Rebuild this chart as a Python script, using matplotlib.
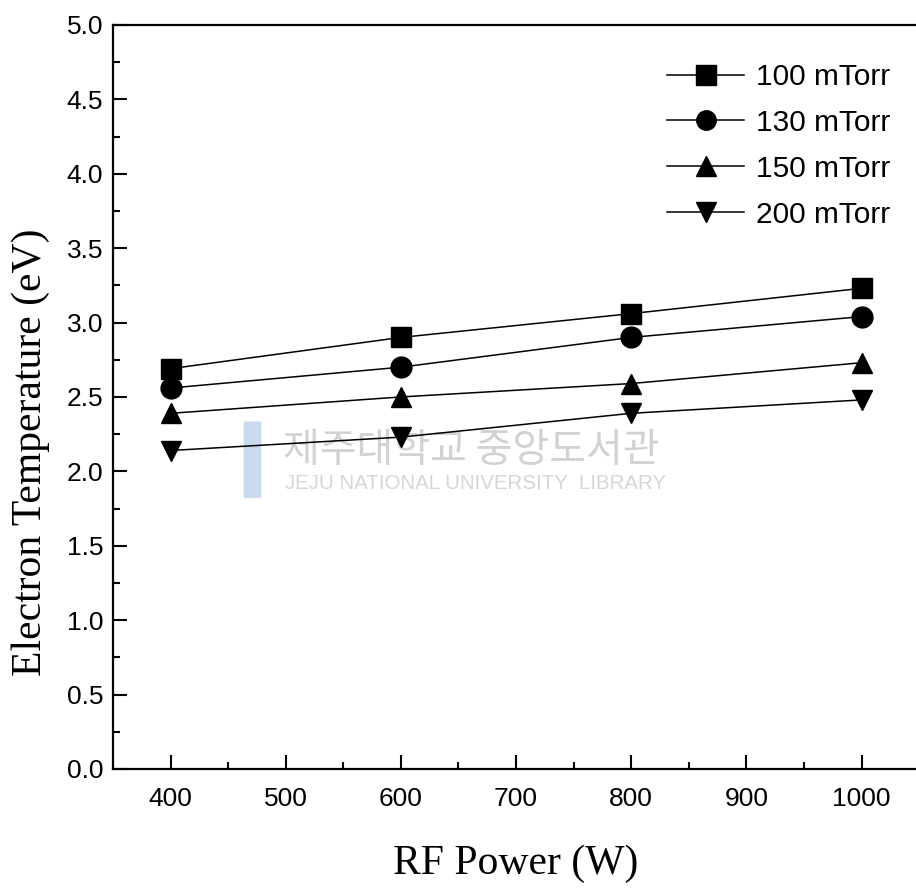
import matplotlib.pyplot as plt
from matplotlib.patches import FancyBboxPatch
from matplotlib.ticker import MultipleLocator

power = [400, 600, 800, 1000]
pressures = ['100 mTorr', '130 mTorr', '150 mTorr', '200 mTorr']
te_100 = [2.69, 2.90, 3.06, 3.23]
te_130 = [2.56, 2.70, 2.90, 3.04]
te_150 = [2.39, 2.50, 2.59, 2.73]
te_200 = [2.14, 2.23, 2.39, 2.48]
markers = ['s', 'o', '^', 'v']

fig = plt.figure(figsize=(9.16, 8.9), dpi=100)
ax = fig.add_axes([0.1234, 0.136, 0.88, 0.836])

for te, m, lab in zip([te_100, te_130, te_150, te_200], markers, pressures):
    ax.plot(power, te, color='black', lw=1.1, marker=m, ms=15, label=lab, zorder=3)

# watermark (library stamp)
ax.add_patch(FancyBboxPatch((0.164, 0.366), 0.018, 0.099, transform=ax.transAxes,
                            boxstyle='round,pad=0.002', fc='#bcd0ea', ec='none',
                            alpha=0.8, zorder=1))
ax.text(0.211, 0.413, '제주대학교 중앙도서관', transform=ax.transAxes,
        fontsize=28.8, color='#d2d2d2', family=['Noto Sans CJK KR', 'DejaVu Sans'],
        zorder=1)
ax.text(0.213, 0.376, 'JEJU NATIONAL UNIVERSITY  LIBRARY', transform=ax.transAxes,
        fontsize=14.8, color='#d6d6d6', family='Liberation Sans', zorder=1)

ax.set_xlim(350, 1050)
ax.set_ylim(0, 5)
ax.xaxis.set_major_locator(MultipleLocator(100))
ax.xaxis.set_minor_locator(MultipleLocator(50))
ax.yaxis.set_major_locator(MultipleLocator(0.5))
ax.yaxis.set_minor_locator(MultipleLocator(0.25))
ax.yaxis.set_major_formatter(lambda v, p: f'{v:.1f}')
ax.tick_params(which='both', direction='in', width=1.5, labelsize=19, pad=7)
ax.tick_params(which='major', length=10)
ax.tick_params(which='minor', length=5)
ax.tick_params(axis='x', pad=13)
for lbl in ax.get_xticklabels() + ax.get_yticklabels():
    lbl.set_family('Liberation Sans')
for s in ax.spines.values():
    s.set_linewidth(1.6)

ax.set_xlabel('RF Power (W)', family='Liberation Serif', fontsize=30, labelpad=24)
ax.set_ylabel('Electron Temperature (eV)', family='Liberation Serif', fontsize=30)
ax.yaxis.set_label_coords(-0.078, 0.426)

leg = ax.legend(loc='upper right', bbox_to_anchor=(0.998, 0.985), frameon=False,
                prop={'family': 'Liberation Sans', 'size': 21.5}, handlelength=2.6,
                handletextpad=0.4, labelspacing=0.6)
for h in leg.legend_handles:
    h.set_markersize(14)

fig.savefig('out.png', dpi=100)
